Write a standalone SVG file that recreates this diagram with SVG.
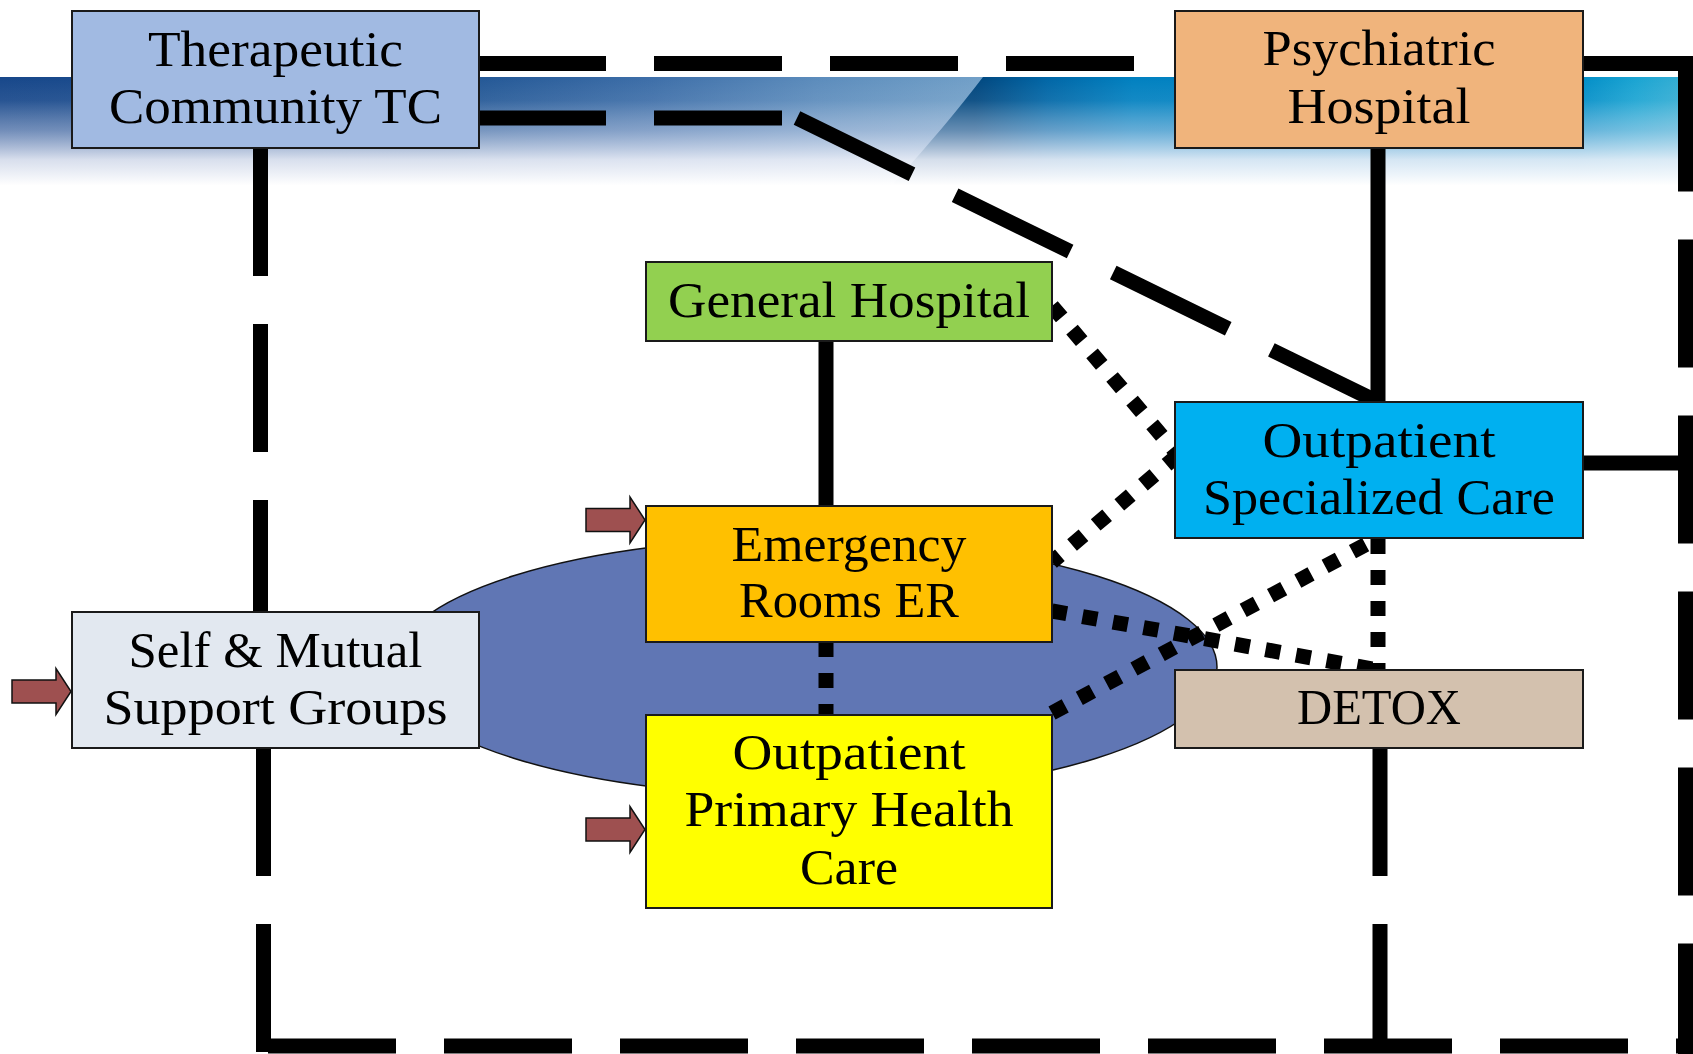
<svg xmlns="http://www.w3.org/2000/svg" xmlns:xlink="http://www.w3.org/1999/xlink" width="1693" height="1054" viewBox="0 0 1693 1054">
<defs>
<linearGradient id="bandL" x1="0" y1="0" x2="1000" y2="0" gradientUnits="userSpaceOnUse">
<stop offset="0" stop-color="#17478a"/>
<stop offset="0.45" stop-color="#1f5493"/>
<stop offset="0.65" stop-color="#3d6ea8"/>
<stop offset="0.82" stop-color="#5c8cbc"/>
<stop offset="1" stop-color="#74a2c9"/>
</linearGradient>
<linearGradient id="bandR" x1="975" y1="0" x2="1693" y2="0" gradientUnits="userSpaceOnUse">
<stop offset="0" stop-color="#00467e"/>
<stop offset="0.1" stop-color="#0066a6"/>
<stop offset="0.22" stop-color="#0080c0"/>
<stop offset="0.84" stop-color="#008cc6"/>
<stop offset="0.92" stop-color="#1aa4d2"/>
<stop offset="1" stop-color="#3ab0d4"/>
</linearGradient>
<linearGradient id="fade" x1="0" y1="77" x2="0" y2="195" gradientUnits="userSpaceOnUse">
<stop offset="0" stop-color="#ffffff" stop-opacity="0"/>
<stop offset="0.2" stop-color="#f4f4fb" stop-opacity="0.08"/>
<stop offset="0.45" stop-color="#dfe2f2" stop-opacity="0.45"/>
<stop offset="0.7" stop-color="#f2f3fa" stop-opacity="0.88"/>
<stop offset="0.92" stop-color="#ffffff" stop-opacity="1"/>
</linearGradient>
<path id="inArrow" d="M0 -11.5 H44 V-23 L59 0 L44 23 V11.5 H0 Z"/>
<style>
.box{stroke:#1a1a1a;stroke-width:2}
.lbl{font-family:"Liberation Serif","Times New Roman",serif;font-size:50px;fill:#000;text-anchor:middle}
.solid{stroke:#000;stroke-width:15;fill:none}
.dash{stroke:#000;stroke-width:15;fill:none;stroke-dasharray:128 48}
.dot{stroke:#000;stroke-width:15;fill:none;stroke-dasharray:15 16}
.arr{fill:#9e5050;stroke:#111;stroke-width:1.5}
</style>
</defs>
<rect x="0" y="0" width="1693" height="1054" fill="#ffffff"/>
<g id="banner">
<rect x="0" y="77" width="1000" height="123" fill="url(#bandL)"/>
<path d="M983 77 L1693 77 L1693 200 L880 200 C895 180 935 140 983 77 Z" fill="url(#bandR)"/>
<rect x="0" y="77" width="1693" height="125" fill="url(#fade)"/>
</g>
<ellipse id="hub" cx="805" cy="667" rx="412" ry="129" fill="#6076b4" stroke="#111" stroke-width="1.5"/>
<g id="connectors">
<line class="dash" x1="478" y1="63.5" x2="1175" y2="63.5"/>
<line class="dash" x1="478" y1="118" x2="782" y2="118"/>
<line class="dash" x1="797" y1="118" x2="1378" y2="402"/>
<line class="solid" x1="1583" y1="63.5" x2="1693" y2="63.5"/>
<line class="dash" x1="1685.5" y1="63.5" x2="1685.5" y2="1054"/>
<line class="solid" x1="1583" y1="463" x2="1686" y2="463"/>
<line class="dash" x1="260.5" y1="148" x2="260.5" y2="612"/>
<line class="dash" x1="263.5" y1="748" x2="263.5" y2="1054"/>
<line class="dash" x1="268" y1="1046" x2="1693" y2="1046"/>
<line class="dash" x1="1380" y1="748" x2="1380" y2="1046"/>
<line class="solid" x1="1378" y1="148" x2="1378" y2="402"/>
<line class="solid" x1="826" y1="341" x2="826" y2="505"/>
<line class="dot" x1="1052" y1="306" x2="1178" y2="455"/>
<line class="dot" x1="1178" y1="455" x2="1052" y2="562"/>
<line class="dot" x1="1052" y1="611" x2="1378" y2="670"/>
<line class="dot" x1="1052" y1="713" x2="1378" y2="538"/>
<line class="dot" x1="1378" y1="539" x2="1378" y2="670"/>
<line class="dot" x1="826" y1="642" x2="826" y2="715"/>
</g>
<g id="node-tc">
<rect class="box" x="72" y="11" width="407" height="137" fill="#a1bae2"/>
<text class="lbl" x="275.5" y="65.5" textLength="255" lengthAdjust="spacingAndGlyphs">Therapeutic</text>
<text class="lbl" x="275.5" y="122.5" textLength="333" lengthAdjust="spacingAndGlyphs">Community TC</text>
</g>
<g id="node-psychiatric">
<rect class="box" x="1175" y="11" width="408" height="137" fill="#f0b47c"/>
<text class="lbl" x="1379" y="65" textLength="233" lengthAdjust="spacingAndGlyphs">Psychiatric</text>
<text class="lbl" x="1379" y="122.5" textLength="183" lengthAdjust="spacingAndGlyphs">Hospital</text>
</g>
<g id="node-general">
<rect class="box" x="646" y="262" width="406" height="79" fill="#92d050"/>
<text class="lbl" x="849" y="317" textLength="362" lengthAdjust="spacingAndGlyphs">General Hospital</text>
</g>
<g id="node-osc">
<rect class="box" x="1175" y="402" width="408" height="136" fill="#00b0f0"/>
<text class="lbl" x="1379" y="456.5" textLength="233" lengthAdjust="spacingAndGlyphs">Outpatient</text>
<text class="lbl" x="1379" y="514" textLength="352" lengthAdjust="spacingAndGlyphs">Specialized Care</text>
</g>
<g id="node-er">
<rect class="box" x="646" y="506" width="406" height="136" fill="#ffc000"/>
<text class="lbl" x="849" y="560.5" textLength="235" lengthAdjust="spacingAndGlyphs">Emergency</text>
<text class="lbl" x="849" y="617" textLength="220" lengthAdjust="spacingAndGlyphs">Rooms ER</text>
</g>
<g id="node-ophc">
<rect class="box" x="646" y="715" width="406" height="193" fill="#ffff00"/>
<text class="lbl" x="849" y="769" textLength="233" lengthAdjust="spacingAndGlyphs">Outpatient</text>
<text class="lbl" x="849" y="826" textLength="329" lengthAdjust="spacingAndGlyphs">Primary Health</text>
<text class="lbl" x="849" y="884" textLength="98" lengthAdjust="spacingAndGlyphs">Care</text>
</g>
<g id="node-detox">
<rect class="box" x="1175" y="670" width="408" height="78" fill="#d3c1ae"/>
<text class="lbl" x="1379" y="723.5" textLength="164" lengthAdjust="spacingAndGlyphs">DETOX</text>
</g>
<g id="node-self">
<rect class="box" x="72" y="612" width="407" height="136" fill="#e2e8f0"/>
<text class="lbl" x="275.5" y="666.5" textLength="294" lengthAdjust="spacingAndGlyphs">Self &amp; Mutual</text>
<text class="lbl" x="275.5" y="723.5" textLength="344" lengthAdjust="spacingAndGlyphs">Support Groups</text>
</g>
<g id="entry-arrows">
<use xlink:href="#inArrow" href="#inArrow" class="arr" transform="translate(12,691.5)"/>
<use xlink:href="#inArrow" href="#inArrow" class="arr" transform="translate(586,520)"/>
<use xlink:href="#inArrow" href="#inArrow" class="arr" transform="translate(586,829.5)"/>
</g>
</svg>
